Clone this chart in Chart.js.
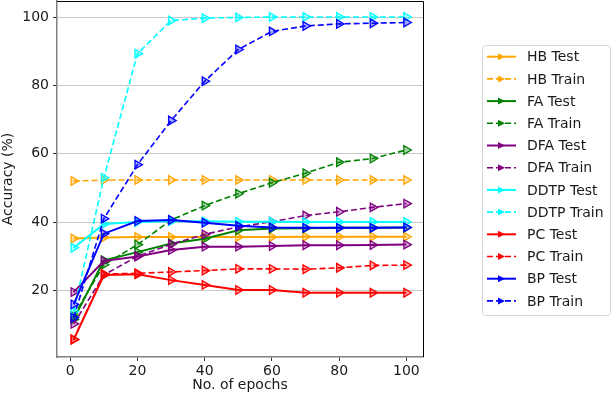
<!DOCTYPE html>
<html>
<head>
<meta charset="utf-8">
<script src="https://cdn.jsdelivr.net/npm/chart.js@4"></script>
<style>
  html, body { margin: 0; padding: 0; background: #fff; }
  canvas { display: block; }
</style>
</head>
<body>
<canvas id="acc-chart" width="614" height="398"></canvas>
<script>
'use strict';

const epochs = [1, 10, 20, 30, 40, 50, 60, 70, 80, 90, 100];
const xTicks = [0, 20, 40, 60, 80, 100];
const yTicks = [20, 40, 60, 80, 100];

const hbTest    = [35.2, 35.5, 35.6, 35.6, 35.6, 35.6, 35.6, 35.7, 35.7, 35.7, 35.7];
const hbTrain   = [52.0, 52.3, 52.3, 52.3, 52.3, 52.3, 52.3, 52.3, 52.3, 52.3, 52.3];
const faTest    = [11.5, 28.8, 31.2, 33.7, 35.1, 37.6, 38.1, 38.2, 38.3, 38.3, 38.4];
const faTrain   = [12.5, 27.5, 33.4, 40.6, 44.8, 48.3, 51.5, 54.3, 57.5, 58.6, 61.1];
const dfaTest   = [19.5, 28.6, 29.9, 31.8, 32.8, 32.8, 33.0, 33.2, 33.2, 33.3, 33.4];
const dfaTrain  = [10.2, 24.5, 30.0, 33.5, 36.4, 38.6, 40.1, 41.9, 43.0, 44.3, 45.4];
const ddtpTest  = [32.5, 39.4, 40.0, 40.2, 40.2, 40.1, 40.1, 40.0, 40.0, 40.0, 40.0];
const ddtpTrain = [13.8, 53.0, 89.3, 99.0, 99.7, 99.9, 100, 100, 100, 100, 100];
const pcTest    = [5.6, 24.5, 24.7, 23.0, 21.6, 20.1, 20.1, 19.3, 19.3, 19.3, 19.3];
const pcTrain   = [5.6, 24.8, 25.0, 25.4, 25.8, 26.3, 26.3, 26.2, 26.6, 27.3, 27.4];
const bpTest    = [15.9, 36.6, 40.3, 40.6, 39.8, 38.9, 38.4, 38.3, 38.3, 38.3, 38.4];
const bpTrain   = [12.0, 41.0, 56.8, 69.7, 81.2, 90.5, 95.8, 97.4, 98.0, 98.2, 98.4];

const FONT = 'DejaVu Sans';

function series(label, values, color, dashed, idx) {
    return {
        label,
        data: epochs.map((e, i) => ({ x: e, y: values[i] })),
        borderColor: color,
        backgroundColor: color,
        borderWidth: dashed ? 1.6 : 2,
        borderDash: dashed ? [6, 3] : [],
        pointStyle: 'triangle',
        pointRotation: 90,
        pointRadius: 5,
        pointBorderWidth: 1.3,
        pointBorderColor: color,
        pointBackgroundColor: color + '55',
        tension: 0,
        fill: false,
        order: -idx,
    };
}

const datasets = [
    series('HB Test',    hbTest,    '#ffa500', false, 0),
    series('HB Train',   hbTrain,   '#ffa500', true,  1),
    series('FA Test',    faTest,    '#008000', false, 2),
    series('FA Train',   faTrain,   '#008000', true,  3),
    series('DFA Test',   dfaTest,   '#800080', false, 4),
    series('DFA Train',  dfaTrain,  '#800080', true,  5),
    series('DDTP Test',  ddtpTest,  '#00ffff', false, 6),
    series('DDTP Train', ddtpTrain, '#00ffff', true,  7),
    series('PC Test',    pcTest,    '#ff0000', false, 8),
    series('PC Train',   pcTrain,   '#ff0000', true,  9),
    series('BP Test',    bpTest,    '#0000ff', false, 10),
    series('BP Train',   bpTrain,   '#0000ff', true,  11),
];

// matplotlib-like frame + legend box drawn by hand
const frameAndLegend = {
    id: 'frameAndLegend',
    afterDraw(chart) {
        const { ctx, chartArea: a } = chart;
        ctx.save();
        ctx.strokeStyle = '#000';
        ctx.lineWidth = 1;
        ctx.beginPath();
        ctx.moveTo(a.left, a.top + 0.5);
        ctx.lineTo(a.right + 0.5, a.top + 0.5);
        ctx.lineTo(a.right + 0.5, a.bottom);
        ctx.stroke();

        // legend
        const bx = 482, by = 45, bw = 128, bh = 270, r = 3;
        ctx.fillStyle = 'rgba(255,255,255,0.8)';
        ctx.strokeStyle = '#d6d6d6';
        ctx.beginPath();
        ctx.roundRect(bx + 0.5, by + 0.5, bw, bh, r);
        ctx.fill();
        ctx.stroke();

        ctx.font = '14px "' + FONT + '"';
        ctx.textBaseline = 'middle';
        chart.data.datasets.forEach((ds, i) => {
            const y = 56.7 + i * 22.2;
            ctx.strokeStyle = ds.borderColor;
            ctx.lineWidth = ds.borderWidth;
            ctx.setLineDash(ds.borderDash);
            ctx.beginPath();
            ctx.moveTo(487, y);
            ctx.lineTo(516, y);
            ctx.stroke();
            ctx.setLineDash([]);
            ctx.fillStyle = ds.borderColor;
            ctx.beginPath();
            ctx.moveTo(505, y);
            ctx.lineTo(498, y - 3.5);
            ctx.lineTo(498, y + 3.5);
            ctx.closePath();
            ctx.fill();
            ctx.fillStyle = '#1a1a1a';
            ctx.fillText(ds.label, 527, y + 1);
        });
        ctx.restore();
    },
};

new Chart(document.getElementById('acc-chart').getContext('2d'), {
    type: 'line',
    data: { datasets },
    options: {
        responsive: false,
        animation: false,
        layout: { autoPadding: false, padding: { top: 1, right: 191, left: 0, bottom: 0 } },
        plugins: {
            legend: { display: false },
            tooltip: { enabled: false },
        },
        scales: {
            x: {
                type: 'linear',
                min: -3.95,
                max: 104.95,
                afterBuildTicks: s => { s.ticks = xTicks.map(v => ({ value: v })); },
                afterFit: s => { s.height = 41; s.paddingLeft = 0; s.paddingRight = 0; },
                border: { color: '#808080', width: 1.5 },
                grid: { drawOnChartArea: false, drawTicks: true, tickLength: 4, tickColor: '#333' },
                ticks: { color: '#1a1a1a', padding: 2, maxRotation: 0, font: { family: FONT, size: 14 } },
                title: {
                    display: true, text: 'No. of epochs', color: '#1a1a1a',
                    padding: { top: 0, bottom: 4 }, font: { family: FONT, size: 14 },
                },
            },
            y: {
                min: 0.5,
                max: 104.7,
                afterBuildTicks: s => { s.ticks = yTicks.map(v => ({ value: v })); },
                afterFit: s => { s.width = 57; s.paddingTop = 0; s.paddingBottom = 0; },
                border: { color: '#808080', width: 1.5 },
                grid: { color: '#c8c8c8', lineWidth: 1, drawTicks: true, tickLength: 4, tickColor: '#333' },
                ticks: { color: '#1a1a1a', padding: 4, font: { family: FONT, size: 14 } },
                title: {
                    display: true, text: 'Accuracy (%)', color: '#1a1a1a',
                    padding: { top: 0, bottom: 0 }, font: { family: FONT, size: 14 },
                },
            },
        },
    },
    plugins: [frameAndLegend],
});
</script>
</body>
</html>
